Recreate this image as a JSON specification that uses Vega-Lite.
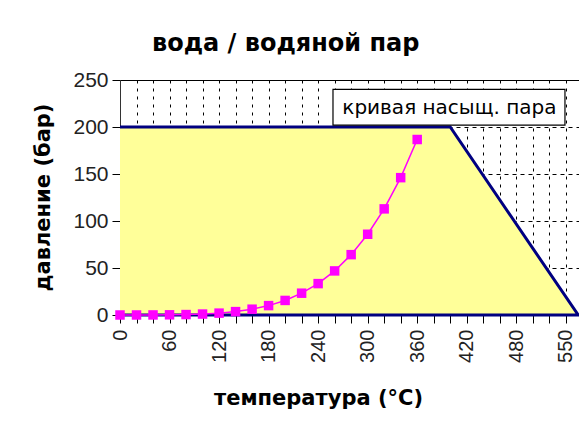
{
  "$schema": "https://vega.github.io/schema/vega-lite/v6.json",
  "width": 459,
  "height": 235,
  "autosize": {"type": "none"},
  "padding": {"left": 120, "top": 80, "right": 0, "bottom": 111},
  "background": "#ffffff",
  "config": {
    "font": "Liberation Sans",
    "view": {"stroke": null},
    "axis": {"labelColor": "#222222", "titleColor": "#000000", "domainColor": "#333333", "tickColor": "#333333", "labelFont": "Liberation Sans", "titleFont": "DejaVu Sans"}
  },
  "title": {
    "text": "вода / водяной пар",
    "fontSize": 24,
    "fontWeight": "bold",
    "font": "DejaVu Sans",
    "color": "#000000",
    "anchor": "start",
    "frame": "group",
    "dx": 32,
    "offset": 13
  },
  "datasets": {
    "boundary": [
      {"i": 1, "t": 0, "p": 0},
      {"i": 2, "t": 555, "p": 0},
      {"i": 3, "t": 400, "p": 200},
      {"i": 4, "t": 0, "p": 200}
    ],
    "region": [
      {"t": 0, "p": 200},
      {"t": 400, "p": 200},
      {"t": 555, "p": 0}
    ],
    "sat": [
      {"t": 0, "p": 0.006},
      {"t": 20, "p": 0.023},
      {"t": 40, "p": 0.074},
      {"t": 60, "p": 0.2},
      {"t": 80, "p": 0.47},
      {"t": 100, "p": 1.01},
      {"t": 120, "p": 1.99},
      {"t": 140, "p": 3.61},
      {"t": 160, "p": 6.18},
      {"t": 180, "p": 10.0},
      {"t": 200, "p": 15.5},
      {"t": 220, "p": 23.2},
      {"t": 240, "p": 33.4},
      {"t": 260, "p": 46.9},
      {"t": 280, "p": 64.2},
      {"t": 300, "p": 85.9},
      {"t": 320, "p": 112.9},
      {"t": 340, "p": 146.1},
      {"t": 360, "p": 186.7}
    ],
    "note": [
      {"label": "кривая насыщ. пара", "t": 399, "p": 220, "t1": 258, "t2": 539, "p1": 202, "p2": 240}
    ]
  },
  "encoding": {
    "x": {
      "field": "t", "type": "quantitative",
      "scale": {"domain": [0, 556], "nice": false, "zero": false},
      "axis": {
        "values": [0, 20, 40, 60, 80, 100, 120, 140, 160, 180, 200, 220, 240, 260, 280, 300, 320, 340, 360, 380, 400, 420, 440, 460, 480, 500, 520, 540],
        "labelExpr": "datum.value == 540 ? '550' : (datum.value % 60 == 0 ? datum.label : '')",
        "labelAngle": 270,
        "labelFontSize": 20,
        "labelPadding": 6,
        "labelFlush": false,
        "labelOverlap": false,
        "tickSize": 8,
        "tickColor": "#000000",
        "domain": false,
        "grid": true,
        "gridColor": "#000000",
        "gridDash": [3, 5],
        "gridWidth": 1,
        "gridOpacity": 1,
        "title": "температура (°C)",
        "titleFontSize": 21,
        "titleFontWeight": "bold",
        "titleX": 198,
        "titleY": 83,
        "titleBaseline": "middle",
        "titleAlign": "center"
      }
    },
    "y": {
      "field": "p", "type": "quantitative",
      "scale": {"domain": [0, 250], "nice": false},
      "axis": {
        "values": [0, 50, 100, 150, 200, 250],
        "labelFontSize": 21,
        "labelPadding": 4,
        "tickSize": 8,
        "tickColor": "#000000",
        "domainColor": "#333333",
        "grid": true,
        "gridColor": "#000000",
        "gridDash": {"condition": {"test": "datum.value == 250", "value": []}, "value": [4, 4]},
        "gridWidth": 1,
        "gridOpacity": 1,
        "title": "давление (бар)",
        "titleFontSize": 21,
        "titleFontWeight": "bold",
        "titleAngle": -90,
        "titleX": -77,
        "titleY": 117,
        "titleBaseline": "middle",
        "titleAlign": "center"
      }
    }
  },
  "layer": [
    {
      "data": {"name": "region"},
      "mark": {"type": "area", "color": "#FFFF99", "opacity": 1},
      "encoding": {
        "y2": {"datum": 0}
      }
    },
    {
      "data": {"name": "boundary"},
      "mark": {"type": "line", "color": "#000080", "strokeWidth": 3},
      "encoding": {
        "order": {"field": "i", "type": "quantitative"}
      }
    },
    {
      "data": {"name": "sat"},
      "mark": {"type": "line", "color": "#FF00FF", "strokeWidth": 1.5},
      "encoding": {}
    },
    {
      "data": {"name": "sat"},
      "mark": {"type": "point", "shape": "square", "filled": true, "color": "#FF00FF", "size": 90, "opacity": 1},
      "encoding": {}
    },
    {
      "data": {"name": "note"},
      "mark": {"type": "rect", "fill": "#ffffff", "stroke": "#000000", "strokeWidth": 1.2},
      "encoding": {
        "x": {"field": "t1", "type": "quantitative"},
        "x2": {"field": "t2"},
        "y": {"field": "p1", "type": "quantitative"},
        "y2": {"field": "p2"}
      }
    },
    {
      "data": {"name": "note"},
      "mark": {"type": "text", "fontSize": 20, "font": "DejaVu Sans", "color": "#000000", "align": "center", "baseline": "middle"},
      "encoding": {
        "text": {"field": "label"}
      }
    }
  ]
}
